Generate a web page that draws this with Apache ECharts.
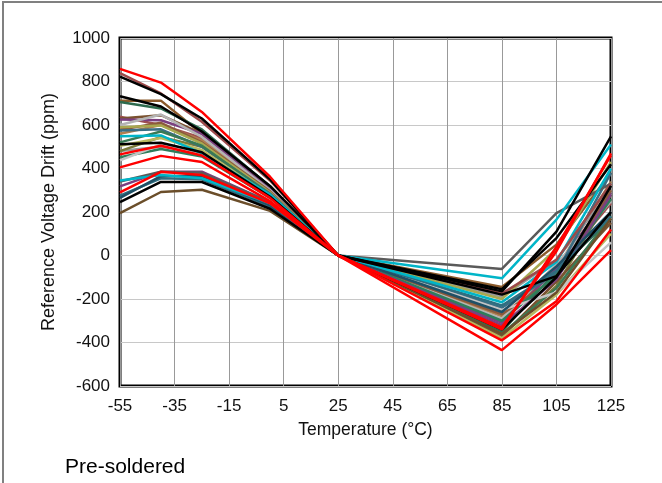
<!DOCTYPE html>
<html><head><meta charset="utf-8">
<script src="https://cdn.jsdelivr.net/npm/echarts@6/dist/echarts.min.js"></script>
<style>
html,body{margin:0;padding:0;background:#fff;}
#frame{position:absolute;left:2px;top:1px;width:662px;height:483px;border-left:2px solid #808080;border-top:2px solid #808080;box-sizing:border-box;}
#c{position:absolute;left:0;top:0;width:662px;height:483px;}
</style>
</head><body>
<div id="frame"></div>
<div id="c"></div>
<script>
const temperatures = [-55, -40, -25, 0, 25, 85, 105, 125];
const xTicks = [-55, -35, -15, 5, 25, 45, 65, 85, 105, 125];
const yTicks = [-600, -400, -200, 0, 200, 400, 600, 800, 1000];

const s01 = [638, 600, 540, 300, 0, -300, -60, 240];
const s02 = [560, 600, 530, 295, 0, -280, -60, 340];
const s03 = [480, 500, 480, 270, 0, -190, -20, 300];
const s04 = [480, 545, 500, 278, 0, -370, -140, 280];
const s05 = [712, 712, 560, 315, 0, -145, 50, 380];
const s06 = [706, 676, 580, 318, 0, -350, -70, 170];
const s07 = [630, 645, 560, 300, 0, -370, -120, 150];
const s08 = [625, 622, 560, 305, 0, -310, -60, 290];
const s09 = [600, 648, 545, 300, 0, -290, -40, 250];
const s10 = [578, 610, 520, 295, 0, -270, -100, 300];
const s11 = [590, 598, 515, 290, 0, -200, 30, 430];
const s12 = [575, 580, 500, 285, 0, -240, -80, 380];
const s13 = [520, 570, 505, 280, 0, -360, -150, 180];
const s14 = [505, 540, 485, 275, 0, -380, -180, 100];
const s15 = [452, 490, 455, 265, 0, -300, -90, 260];
const s16 = [437, 510, 470, 268, 0, -250, -170, 60];
const s17 = [318, 385, 385, 245, 0, -320, -110, 280];
const s18 = [275, 355, 350, 225, 0, -230, -70, 180];
const s19 = [265, 365, 365, 230, 0, -260, -50, 200];
const s20 = [195, 292, 302, 205, 0, -360, -170, 170];
const s21 = [340, 385, 380, 245, 0, -62, 195, 330];
const s22 = [345, 370, 355, 240, 0, -215, -30, 400];
const s23 = [548, 552, 470, 280, 0, -105, 165, 510];
const s24 = [838, 745, 615, 345, 0, -175, -20, 330];
const s25 = [245, 338, 338, 215, 0, -180, -95, 200];
const s26 = [512, 518, 475, 270, 0, -340, -100, 320];
const s27 = [732, 685, 570, 320, 0, -155, 80, 420];
const s28 = [822, 742, 630, 350, 0, -165, 110, 548];
const s29 = [290, 385, 370, 240, 0, -340, 40, 460];
const s30 = [465, 505, 460, 265, 0, -390, -210, 120];
const s31 = [405, 458, 430, 250, 0, -435, -225, 25];
const s32 = [858, 795, 660, 362, 0, -330, 20, 470];

const seriesValues = [s01,s02,s03,s04,s05,s06,s07,s08,s09,s10,s11,s12,s13,s14,s15,s16,s17,s18,s19,s20,s21,s22,s23,s24,s25,s26,s27,s28,s29,s30,s31,s32];
const seriesColors = ['#A05050','#B08050','#999999','#7A7A3A','#8B5A2B','#2E6B4E','#7A5230','#7B3F7F','#B4B4B4','#8B5A3C','#A8A850','#3B6E84','#3A7A55','#B8B860','#2E7D5B','#C4C4C4','#7B3F7F','#2E6E80','#1F5066','#6B4E2A','#5A5A5A','#00B5C8','#00B5C8','#9B4A4A','#000000','#000000','#000000','#000000','#FF0000','#FF0000','#FF0000','#FF0000'];

const chart = echarts.init(document.getElementById('c'), null, {renderer:'canvas'});
const series = seriesValues.map((vals, i) => ({
  type: 'line',
  data: temperatures.map((t, j) => [t, vals[j]]),
  showSymbol: false,
  symbol: 'none',
  silent: true,
  lineStyle: { color: seriesColors[i], width: 2.5 },
  z: 2
}));
const font = 'Liberation Sans, Arial';

chart.setOption({
  animation: false,
  title: {
    text: 'Pre-soldered', left: 60, top: 452,
    textStyle: { fontFamily: font, fontSize: 21, fontWeight: 'normal', color: '#000' }
  },
  grid: { left: 120, right: 51, top: 38, bottom: 97, show: true, borderColor: '#000', borderWidth: 3, backgroundColor: 'transparent' },
  xAxis: {
    type: 'value', min: -55, max: 125, interval: 20,
    name: 'Temperature (°C)', nameLocation: 'middle', nameGap: 35,
    nameTextStyle: { fontFamily: font, fontSize: 17.5, color: '#111' },
    axisLine: { show: false }, axisTick: { show: false },
    axisLabel: { fontFamily: font, fontSize: 17, color: '#111', margin: 12, formatter: v => String(v) },
    splitLine: { show: true, lineStyle: { color: '#999', width: 1 } }
  },
  yAxis: {
    type: 'value', min: -600, max: 1000, interval: 200,
    name: 'Reference Voltage Drift (ppm)', nameLocation: 'middle', nameGap: 62,
    nameTextStyle: { fontFamily: font, fontSize: 18, color: '#111' },
    axisLine: { show: false }, axisTick: { show: false },
    axisLabel: { fontFamily: font, fontSize: 17, color: '#111', margin: 10, formatter: v => String(v) },
    splitLine: { show: true, lineStyle: { color: '#c8c8c8', width: 1 } }
  },
  series: series
});
</script>
</body></html>
